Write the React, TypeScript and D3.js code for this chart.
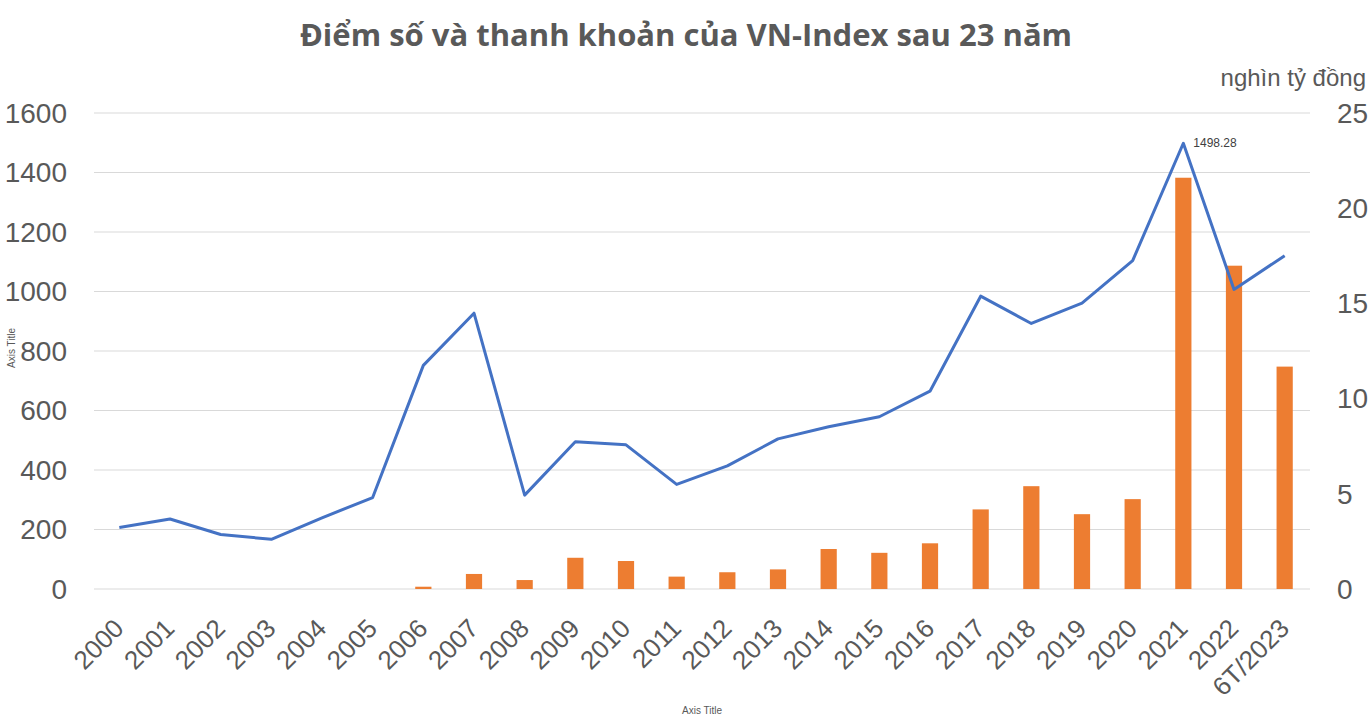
import React from 'react';
import * as d3 from 'd3';

const categories = [
  '2000', '2001', '2002', '2003', '2004', '2005', '2006', '2007', '2008', '2009', '2010', '2011',
  '2012', '2013', '2014', '2015', '2016', '2017', '2018', '2019', '2020', '2021', '2022', '6T/2023',
];
// VN-Index close (left axis)
const indexValues = [
  206.83, 235.4, 183.3, 166.94, 239.29, 307.5, 751.77, 927.02, 315.62, 494.77, 484.66, 351.55,
  413.73, 504.63, 545.63, 579.03, 664.87, 984.24, 892.54, 960.99, 1103.87, 1498.28, 1007.09, 1120.18,
];
// Liquidity, nghìn tỷ đồng (right axis)
const liquidity = [
  0, 0, 0, 0, 0, 0, 0.12, 0.79, 0.47, 1.64, 1.47, 0.65,
  0.88, 1.03, 2.1, 1.9, 2.4, 4.18, 5.4, 3.93, 4.72, 21.6, 16.98, 11.68,
];
const leftTicks = [0, 200, 400, 600, 800, 1000, 1200, 1400, 1600];
const rightTicks = [0, 5, 10, 15, 20, 25];

const W = 1371;
const H = 720;
const margin = { top: 113, right: 61, bottom: 131, left: 94 };
const GREY = '#595959';
const TICK_FONT = '"Liberation Sans", Arial, sans-serif';

const App: React.FC = () => {
  const innerW = W - margin.left - margin.right;
  const innerH = H - margin.top - margin.bottom;

  const x = d3.scaleBand<string>().domain(categories).range([0, innerW]).paddingInner(0).paddingOuter(0);
  const yLeft = d3.scaleLinear().domain([0, 1600]).range([innerH, 0]);
  const yRight = d3.scaleLinear().domain([0, 25]).range([innerH, 0]);

  const cx = (c: string) => (x(c) ?? 0) + x.bandwidth() / 2;
  const barW = x.bandwidth() * 0.32;

  const line = d3
    .line<number>()
    .x((_, i) => cx(categories[i]))
    .y((d) => yLeft(d));

  const peakIdx = d3.maxIndex(indexValues);

  return (
    <svg
      width={W}
      height={H}
      style={{ position: 'absolute', left: 0, top: 0, background: '#fff' }}
    >
      <text
        x={686}
        y={46}
        textAnchor="middle"
        fontFamily='"Open Sans", sans-serif'
        fontWeight={700}
        fontSize={31}
        fill={GREY}
      >
        Điểm số và thanh khoản của VN-Index sau 23 năm
      </text>

      <g transform={`translate(${margin.left},${margin.top})`}>
        {/* grid */}
        {leftTicks.map((t) => (
          <line key={t} x1={0} x2={innerW} y1={yLeft(t)} y2={yLeft(t)} stroke="#d9d9d9" strokeWidth={1} />
        ))}

        {/* left ticks */}
        {leftTicks.map((t) => (
          <text
            key={'l' + t}
            x={-27}
            y={yLeft(t)}
            dy="0.35em"
            textAnchor="end"
            fontFamily={TICK_FONT}
            fontSize={28}
            fill={GREY}
          >
            {t}
          </text>
        ))}

        {/* right ticks */}
        {rightTicks.map((t) => (
          <text
            key={'r' + t}
            x={innerW + 27}
            y={yRight(t)}
            dy="0.35em"
            textAnchor="start"
            fontFamily={TICK_FONT}
            fontSize={28}
            fill={GREY}
          >
            {t}
          </text>
        ))}

        {/* bars */}
        {liquidity.map((v, i) =>
          v > 0 ? (
            <rect
              key={'b' + i}
              x={cx(categories[i]) - barW / 2}
              y={yRight(v)}
              width={barW}
              height={innerH - yRight(v)}
              fill="#ED7D31"
            />
          ) : null
        )}

        {/* line */}
        <path d={line(indexValues) ?? ''} fill="none" stroke="#4472C4" strokeWidth={3} strokeLinejoin="round" />

        <text
          x={cx(categories[peakIdx]) + 10}
          y={yLeft(indexValues[peakIdx])}
          dy="0.35em"
          fontFamily={TICK_FONT}
          fontSize={12}
          fill="#404040"
        >
          {indexValues[peakIdx].toFixed(2)}
        </text>

        {/* x labels */}
        {categories.map((c) => (
          <text
            key={'x' + c}
            transform={`translate(${cx(c) + 6},${innerH + 41}) rotate(-45)`}
            textAnchor="end"
            fontFamily={TICK_FONT}
            fontSize={26}
            fill={GREY}
          >
            {c}
          </text>
        ))}
      </g>

      <text x={1366} y={86} textAnchor="end" fontFamily={TICK_FONT} fontSize={24} fill={GREY}>
        nghìn tỷ đồng
      </text>

      <text
        transform={`translate(15,348) rotate(-90)`}
        textAnchor="middle"
        fontFamily={TICK_FONT}
        fontSize={10}
        fill={GREY}
      >
        Axis Title
      </text>
      <text x={702} y={714} textAnchor="middle" fontFamily={TICK_FONT} fontSize={10} fill={GREY}>
        Axis Title
      </text>
    </svg>
  );
};

export default App;
